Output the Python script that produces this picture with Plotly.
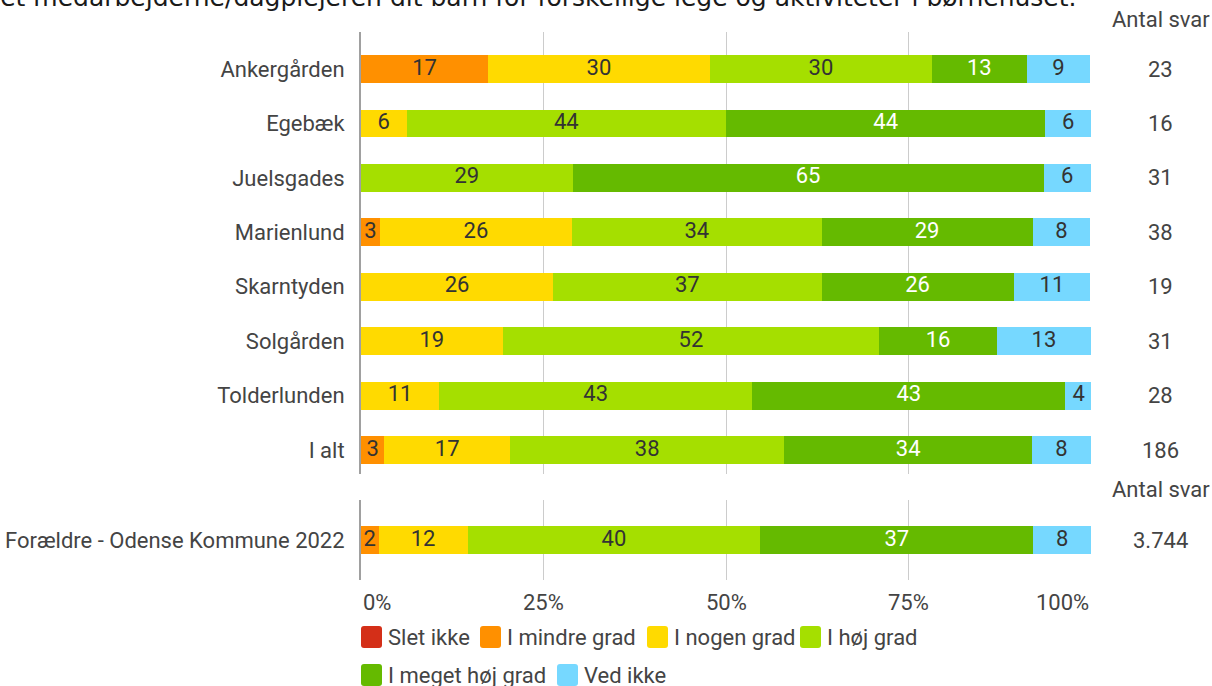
import plotly.graph_objects as go

W, H = 1212, 686

categories = ["Ankergården", "Egebæk", "Juelsgades", "Marienlund", "Skarntyden",
              "Solgården", "Tolderlunden", "I alt"]
answers = ["23", "16", "31", "38", "19", "31", "28", "186"]

series_names = ["Slet ikke", "I mindre grad", "I nogen grad", "I høj grad",
                "I meget høj grad", "Ved ikke"]
colors = ["#D42F18", "#FF9000", "#FFDA00", "#A5DF00", "#65BA00", "#76D8FF"]
text_colors = ["#333333", "#333333", "#333333", "#333333", "#FFFFFF", "#333333"]

# percentages per series (order follows categories)
slet_ikke   = [0, 0, 0, 0, 0, 0, 0, 0]
mindre_grad = [17.4, 0, 0, 2.6, 0, 0, 0, 3.2]
nogen_grad  = [30.4, 6.25, 0, 26.3, 26.3, 19.4, 10.7, 17.2]
hoej_grad   = [30.4, 43.75, 29.0, 34.2, 36.8, 51.6, 42.9, 37.6]
meget_hoej  = [13.0, 43.75, 64.5, 28.9, 26.3, 16.1, 42.9, 33.9]
ved_ikke    = [8.7, 6.25, 6.45, 7.9, 10.5, 12.9, 3.6, 8.1]
upper_series = [slet_ikke, mindre_grad, nogen_grad, hoej_grad, meget_hoej, ved_ikke]

ref_category = ["Forældre - Odense Kommune 2022"]
ref_answers = ["3.744"]
ref_series = [[0], [2.4], [12.2], [40.1], [37.4], [7.9]]

x_ticks = [0, 25, 50, 75, 100]
x_tick_labels = ["0%", "25%", "50%", "75%", "100%"]

FONT = "Roboto"
TXT = "#444444"
FS = 22


def px(x):
    return x / W


def py(y):
    return 1 - y / H


def lab(v):
    return str(int(v + 0.5)) if v > 0 else ""


fig = go.Figure()


def add_group(cats, series, xa, ya):
    starts = [0.0] * len(cats)
    for i, name in enumerate(series_names):
        vals = series[i]
        fig.add_trace(go.Bar(
            y=cats, x=vals, orientation="h", name=name,
            marker=dict(color=colors[i], line=dict(width=0)),
            width=0.51, xaxis=xa, yaxis=ya, showlegend=False,
            hoverinfo="skip"))
        mids = [s + v / 2 for s, v in zip(starts, vals)]
        fig.add_trace(go.Scatter(
            y=cats, x=mids, mode="text", text=[lab(v) for v in vals],
            textposition="middle center",
            textfont=dict(family=FONT, size=FS, color=text_colors[i]),
            xaxis=xa, yaxis=ya, showlegend=False, hoverinfo="skip",
            cliponaxis=False))
        starts = [s + v for s, v in zip(starts, vals)]


add_group(categories, upper_series, "x", "y")
add_group(ref_category, ref_series, "x2", "y2")

xdom = [px(361), px(1091)]
axis_common = dict(range=[0, 100], tickvals=x_ticks, showticklabels=False,
                   showgrid=True, gridcolor="#CCCCCC", gridwidth=1,
                   zeroline=False, showline=False, fixedrange=True)
yaxis_common = dict(autorange=False, showgrid=False, zeroline=False,
                    showline=True, linecolor="#A0A0A0", linewidth=2,
                    ticks="", ticklabelstandoff=10, fixedrange=True,
                    tickfont=dict(family=FONT, size=FS, color=TXT))

n = len(categories)
fig.update_layout(
    width=W, height=H,
    margin=dict(l=0, r=0, t=0, b=0),
    paper_bgcolor="white", plot_bgcolor="white",
    barmode="stack", bargap=0,
    font=dict(family=FONT, color=TXT),
    xaxis=dict(domain=xdom, anchor="y", **axis_common),
    yaxis=dict(domain=[py(474), py(32)], anchor="x",
               range=[n - 1 + 0.44, -0.68],
               categoryorder="array", categoryarray=categories,
               **yaxis_common),
    xaxis2=dict(domain=xdom, anchor="y2", **axis_common),
    yaxis2=dict(domain=[py(580), py(500)], anchor="x2",
                range=[0.735, -0.735], **yaxis_common),
    showlegend=False,
)

ann = []
# cut-off title at top (the reference shows only its lower part)
ann.append(dict(
    text="Hvor ofte har præsenteret medarbejderne/dagplejeren dit barn for forskellige lege og aktiviteter i børnehuset.",
    xref="paper", yref="paper", x=px(1078), y=py(-3), xanchor="right", yanchor="middle",
    showarrow=False, font=dict(family="DejaVu Sans", size=25, color="#1a1a1a")))

# Antal svar headers and counts
for yy in (20, 489):
    ann.append(dict(text="Antal svar", xref="paper", yref="paper", x=px(1161), y=py(yy),
                    xanchor="center", yanchor="middle", showarrow=False,
                    font=dict(family=FONT, size=FS, color=TXT)))
for cat, a in zip(categories, answers):
    ann.append(dict(text=a, xref="paper", yref="y", x=px(1160), y=cat,
                    xanchor="center", yanchor="middle", showarrow=False,
                    font=dict(family=FONT, size=FS, color=TXT)))
for cat, a in zip(ref_category, ref_answers):
    ann.append(dict(text=a, xref="paper", yref="y2", x=px(1160), y=cat,
                    xanchor="center", yanchor="middle", showarrow=False,
                    font=dict(family=FONT, size=FS, color=TXT)))

# x tick labels
anchors = ["left", "center", "center", "center", "right"]
for v, t, anc in zip(x_ticks, x_tick_labels, anchors):
    ann.append(dict(text=t, xref="x2", yref="paper", x=v, y=py(602),
                    xanchor=anc, yanchor="middle", showarrow=False,
                    font=dict(family=FONT, size=FS, color=TXT)))

# manual legend
legend_pos = [(361, 637), (480, 637), (647, 637), (800, 637), (361, 675), (557, 675)]
shapes = []
for (lx, ly), name, col in zip(legend_pos, series_names, colors):
    x0, x1 = lx, lx + 21
    y0, y1 = ly - 11, ly + 11
    r = 3
    path = (f"M {px(x0 + r)} {py(y0)} L {px(x1 - r)} {py(y0)} "
            f"Q {px(x1)} {py(y0)} {px(x1)} {py(y0 + r)} L {px(x1)} {py(y1 - r)} "
            f"Q {px(x1)} {py(y1)} {px(x1 - r)} {py(y1)} L {px(x0 + r)} {py(y1)} "
            f"Q {px(x0)} {py(y1)} {px(x0)} {py(y1 - r)} L {px(x0)} {py(y0 + r)} "
            f"Q {px(x0)} {py(y0)} {px(x0 + r)} {py(y0)} Z")
    shapes.append(dict(type="path", path=path, xref="paper", yref="paper",
                       fillcolor=col, line=dict(width=0)))
    ann.append(dict(text=name, xref="paper", yref="paper", x=px(lx + 25), y=py(ly),
                    xanchor="left", yanchor="middle", showarrow=False,
                    font=dict(family=FONT, size=FS, color=TXT)))

fig.update_layout(annotations=ann, shapes=shapes)
fig.update_traces(cliponaxis=False, selector=dict(type="bar"))

fig.write_html("out.html", config={"displayModeBar": False},
               post_script="document.body.style.margin='0';document.body.style.overflow='hidden';")
